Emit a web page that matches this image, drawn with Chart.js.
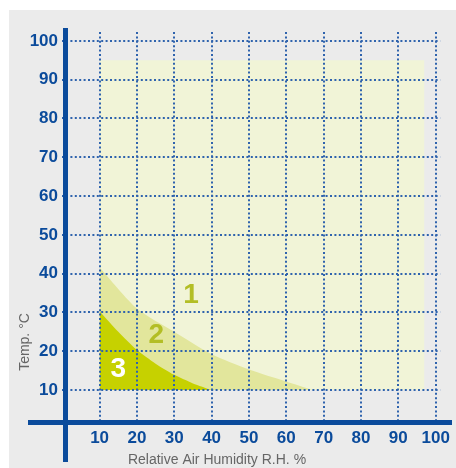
<!DOCTYPE html>
<html>
<head>
<meta charset="utf-8">
<script src="https://cdn.jsdelivr.net/npm/chart.js@4"></script>
<style>
  html, body { margin: 0; padding: 0; background: #ffffff; }
  #wrap { width: 456px; height: 468px; }
</style>
</head>
<body>
<div id="wrap"><canvas id="myChart" width="456" height="468"></canvas></div>
<script>
// tick labels
const xTicks = [10, 20, 30, 40, 50, 60, 70, 80, 90, 100];
const yTicks = [10, 20, 30, 40, 50, 60, 70, 80, 90, 100];

// zone boundaries (humidity %, temp °C)
const zone1 = [{ x: 10, y: 95 }, { x: 97, y: 95 }];
const zone2 = [
  { x: 10, y: 41.6 }, { x: 20, y: 31 }, { x: 30, y: 25 }, { x: 40, y: 19.2 },
  { x: 50, y: 15.3 }, { x: 60, y: 12.2 }, { x: 67, y: 10 },
];
const zone3 = [
  { x: 10, y: 30.3 }, { x: 15, y: 25 }, { x: 20, y: 20.3 }, { x: 25, y: 16.8 },
  { x: 30, y: 13.9 }, { x: 35, y: 11.7 }, { x: 40, y: 10 },
];
const zoneLabels = ["1", "2", "3"];
const zoneLabelPos = [{ x: 34.5, y: 34.5 }, { x: 25.2, y: 24.2 }, { x: 15, y: 15.4 }];

const axisBlue = "#0b4b9b";
const gridBlue = "#2f63ad";
const tickFont = { family: "'Liberation Sans', Arial, sans-serif", size: 17, weight: "bold" };

//panel background + axes + texts
const decor = {
  id: "decor",
  beforeDraw(chart) {
    const ctx = chart.ctx;
    ctx.save();
    ctx.fillStyle = "#ebebeb";
    ctx.fillRect(9, 10, chart.width - 9, chart.height - 10);
    ctx.restore();
  },
  afterDraw(chart) {
    const ctx = chart.ctx;
    const x = chart.scales.x;
    const y = chart.scales.y;
    const area = chart.chartArea;
    ctx.save();
    // thick axis lines
    ctx.fillStyle = axisBlue;
    ctx.fillRect(area.left - 3, 28, 5, 434);
    ctx.fillRect(28, area.bottom - 2, 424, 5);

    // zone numbers
    ctx.font = "bold 28px 'Liberation Sans', Arial, sans-serif";
    ctx.textAlign = "center";
    ctx.textBaseline = "middle";
    zoneLabels.forEach((t, i) => {
      ctx.fillStyle = i === 2 ? "#ffffff" : "#b3be25";
      ctx.fillText(t, x.getPixelForValue(zoneLabelPos[i].x), y.getPixelForValue(zoneLabelPos[i].y));
    });

    // axis titles
    ctx.fillStyle = "#666666";
    ctx.font = "14px 'Liberation Sans', Arial, sans-serif";
    ctx.fillText("Relative Air Humidity R.H. %", 217, 460);
    ctx.translate(25, 342);
    ctx.rotate(-Math.PI / 2);
    ctx.fillText("Temp. °C", 0, 0);
    ctx.restore();
  },
};

const zoneSet = (data, color, order) => ({
  data: data,
  backgroundColor: color,
  borderWidth: 0,
  pointRadius: 0,
  tension: 0.25,
  fill: { value: 10 },
  order: order,
});

const gridOpts = {
  color: gridBlue,
  lineWidth: 2,
  z: 1,
  tickLength: 4,
  tickBorderDash: [2, 2.4],
};

const config = {
  type: "line",
  data: {
    datasets: [
      zoneSet(zone1, "#f1f4d7", 3),
      zoneSet(zone2, "#e2e69c", 2),
      zoneSet(zone3, "#c6d100", 1),
    ],
  },
  options: {
    responsive: false,
    animation: false,
    layout: { padding: { top: 32, right: 13, left: 0, bottom: 0 } },
    plugins: {
      legend: { display: false },
      tooltip: { enabled: false },
    },
    scales: {
      x: {
        type: "linear",
        min: 1,
        max: 101.2,
        border: { display: false, dash: [2, 2.4] },
        grid: Object.assign({}, gridOpts, { drawTicks: false }),
        ticks: { color: axisBlue, font: tickFont, padding: 6 },
        afterBuildTicks: (s) => { s.ticks = xTicks.map((v) => ({ value: v })); },
        afterFit: (s) => { s.height = 46; },
      },
      y: {
        type: "linear",
        min: 1.75,
        max: 102.3,
        border: { display: false, dash: [2, 2.4] },
        grid: gridOpts,
        ticks: { color: axisBlue, font: tickFont, padding: 4 },
        afterBuildTicks: (s) => { s.ticks = yTicks.map((v) => ({ value: v })); },
        afterFit: (s) => { s.width = 66; },
      },
    },
  },
  plugins: [decor],
};

const ctx = document.getElementById("myChart").getContext("2d");
new Chart(ctx, config);
</script>
</body>
</html>
